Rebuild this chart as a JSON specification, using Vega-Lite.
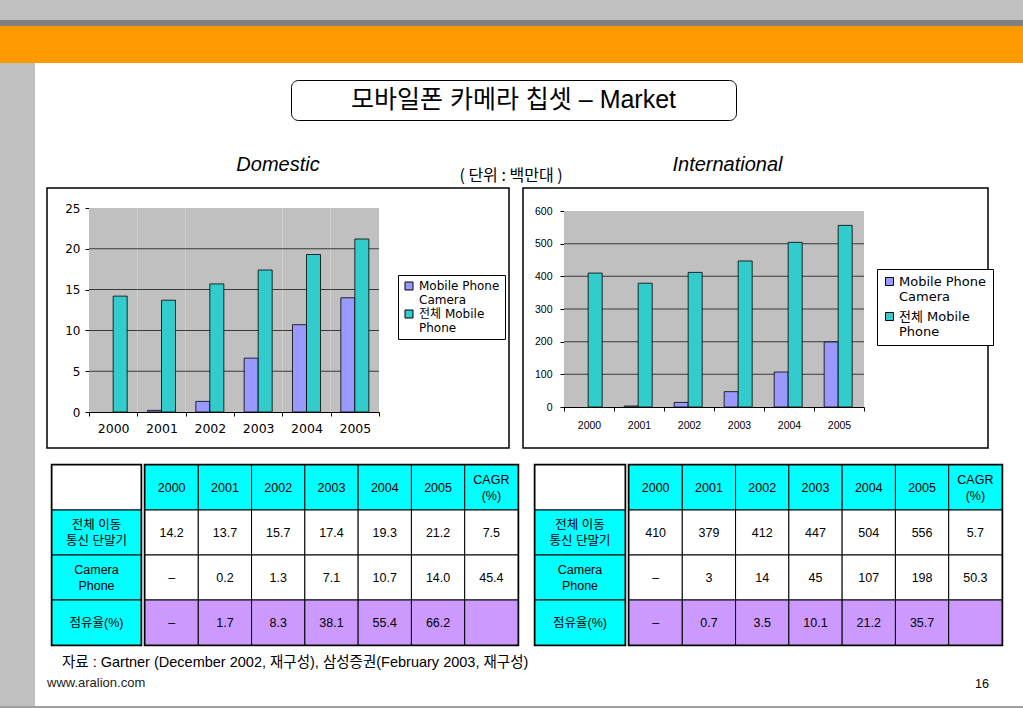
{
  "$schema": "https://vega.github.io/schema/vega-lite/v6.json",
  "background": "white",
  "padding": 0,
  "spacing": 0,
  "config": {
    "view": {"stroke": null},
    "font": "Liberation Sans, Noto Sans CJK KR",
    "title": {"color": "black", "fontWeight": "normal"},
    "axis": {"domainColor": "black", "tickColor": "black", "labelColor": "black", "grid": false},
    "text": {"color": "black"}
  },
  "resolve": {"scale": {"color": "independent"}},
  "datasets": {
    "blank": [],
    "one": [{}],
    "years": [{"year": "2000"}, {"year": "2001"}, {"year": "2002"}, {"year": "2003"}, {"year": "2004"}, {"year": "2005"}],
    "dom": [
      {"year": "2000", "series": "전체 Mobile Phone", "value": 14.2},
      {"year": "2001", "series": "Mobile Phone Camera", "value": 0.2},
      {"year": "2001", "series": "전체 Mobile Phone", "value": 13.7},
      {"year": "2002", "series": "Mobile Phone Camera", "value": 1.3},
      {"year": "2002", "series": "전체 Mobile Phone", "value": 15.7},
      {"year": "2003", "series": "Mobile Phone Camera", "value": 6.6},
      {"year": "2003", "series": "전체 Mobile Phone", "value": 17.4},
      {"year": "2004", "series": "Mobile Phone Camera", "value": 10.7},
      {"year": "2004", "series": "전체 Mobile Phone", "value": 19.3},
      {"year": "2005", "series": "Mobile Phone Camera", "value": 14.0},
      {"year": "2005", "series": "전체 Mobile Phone", "value": 21.2}
    ],
    "intl": [
      {"year": "2000", "series": "전체 Mobile Phone", "value": 410},
      {"year": "2001", "series": "Mobile Phone Camera", "value": 3},
      {"year": "2001", "series": "전체 Mobile Phone", "value": 379},
      {"year": "2002", "series": "Mobile Phone Camera", "value": 14},
      {"year": "2002", "series": "전체 Mobile Phone", "value": 412},
      {"year": "2003", "series": "Mobile Phone Camera", "value": 47},
      {"year": "2003", "series": "전체 Mobile Phone", "value": 447},
      {"year": "2004", "series": "Mobile Phone Camera", "value": 107},
      {"year": "2004", "series": "전체 Mobile Phone", "value": 504},
      {"year": "2005", "series": "Mobile Phone Camera", "value": 199},
      {"year": "2005", "series": "전체 Mobile Phone", "value": 556}
    ],
    "rowlabels": [
      {"r": "0", "label": ""},
      {"r": "1", "label": "전체 이동\n통신 단말기"},
      {"r": "2", "label": "Camera\nPhone"},
      {"r": "3", "label": "점유율(%)"}
    ],
    "tblL": [
      {"r": "0", "c": "2000", "t": "2000"}, {"r": "0", "c": "2001", "t": "2001"}, {"r": "0", "c": "2002", "t": "2002"}, {"r": "0", "c": "2003", "t": "2003"}, {"r": "0", "c": "2004", "t": "2004"}, {"r": "0", "c": "2005", "t": "2005"}, {"r": "0", "c": "CAGR", "t": "CAGR\n(%)"},
      {"r": "1", "c": "2000", "t": "14.2"}, {"r": "1", "c": "2001", "t": "13.7"}, {"r": "1", "c": "2002", "t": "15.7"}, {"r": "1", "c": "2003", "t": "17.4"}, {"r": "1", "c": "2004", "t": "19.3"}, {"r": "1", "c": "2005", "t": "21.2"}, {"r": "1", "c": "CAGR", "t": "7.5"},
      {"r": "2", "c": "2000", "t": "–"}, {"r": "2", "c": "2001", "t": "0.2"}, {"r": "2", "c": "2002", "t": "1.3"}, {"r": "2", "c": "2003", "t": "7.1"}, {"r": "2", "c": "2004", "t": "10.7"}, {"r": "2", "c": "2005", "t": "14.0"}, {"r": "2", "c": "CAGR", "t": "45.4"},
      {"r": "3", "c": "2000", "t": "–"}, {"r": "3", "c": "2001", "t": "1.7"}, {"r": "3", "c": "2002", "t": "8.3"}, {"r": "3", "c": "2003", "t": "38.1"}, {"r": "3", "c": "2004", "t": "55.4"}, {"r": "3", "c": "2005", "t": "66.2"}, {"r": "3", "c": "CAGR", "t": ""}
    ],
    "tblR": [
      {"r": "0", "c": "2000", "t": "2000"}, {"r": "0", "c": "2001", "t": "2001"}, {"r": "0", "c": "2002", "t": "2002"}, {"r": "0", "c": "2003", "t": "2003"}, {"r": "0", "c": "2004", "t": "2004"}, {"r": "0", "c": "2005", "t": "2005"}, {"r": "0", "c": "CAGR", "t": "CAGR\n(%)"},
      {"r": "1", "c": "2000", "t": "410"}, {"r": "1", "c": "2001", "t": "379"}, {"r": "1", "c": "2002", "t": "412"}, {"r": "1", "c": "2003", "t": "447"}, {"r": "1", "c": "2004", "t": "504"}, {"r": "1", "c": "2005", "t": "556"}, {"r": "1", "c": "CAGR", "t": "5.7"},
      {"r": "2", "c": "2000", "t": "–"}, {"r": "2", "c": "2001", "t": "3"}, {"r": "2", "c": "2002", "t": "14"}, {"r": "2", "c": "2003", "t": "45"}, {"r": "2", "c": "2004", "t": "107"}, {"r": "2", "c": "2005", "t": "198"}, {"r": "2", "c": "CAGR", "t": "50.3"},
      {"r": "3", "c": "2000", "t": "–"}, {"r": "3", "c": "2001", "t": "0.7"}, {"r": "3", "c": "2002", "t": "3.5"}, {"r": "3", "c": "2003", "t": "10.1"}, {"r": "3", "c": "2004", "t": "21.2"}, {"r": "3", "c": "2005", "t": "35.7"}, {"r": "3", "c": "CAGR", "t": ""}
    ]
  },
  "vconcat": [
    {"width": 1023, "height": 20, "view": {"fill": "#C0C0C0", "stroke": null}, "data": {"name": "blank"}, "mark": "text", "encoding": {"text": {"value": ""}}},
    {"width": 1023, "height": 6, "view": {"fill": "#808080", "stroke": null}, "data": {"name": "blank"}, "mark": "text", "encoding": {"text": {"value": ""}}},
    {"width": 1023, "height": 37, "view": {"fill": "#FF9900", "stroke": null}, "data": {"name": "blank"}, "mark": "text", "encoding": {"text": {"value": ""}}},
    {
      "spacing": 0,
      "hconcat": [
        {"width": 35, "height": 643, "view": {"fill": "#C0C0C0", "stroke": null}, "data": {"name": "blank"}, "mark": "text", "encoding": {"text": {"value": ""}}},
        {
          "spacing": 0,
          "vconcat": [
            {"width": 1, "height": 16, "data": {"name": "blank"}, "mark": "text", "encoding": {"text": {"value": ""}}},
            {
              "spacing": 0,
              "hconcat": [
                {"width": 255, "height": 40, "data": {"name": "blank"}, "mark": "text", "encoding": {"text": {"value": ""}}},
                {"width": 445, "height": 40, "view": {"stroke": "black", "strokeWidth": 1, "cornerRadius": 7, "fill": "white"}, "data": {"name": "one"}, "mark": {"type": "text", "fontSize": 25, "font": "Liberation Sans, Noto Sans CJK KR"}, "encoding": {"text": {"value": "모바일폰 카메라 칩셋  – Market"}}}
              ]
            },
            {"width": 1, "height": 33, "data": {"name": "blank"}, "mark": "text", "encoding": {"text": {"value": ""}}},
            {
              "spacing": 0,
              "bounds": "flush",
              "resolve": {"scale": {"color": "independent"}},
              "hconcat": [
                {"width": 12, "height": 260, "data": {"name": "blank"}, "mark": "text", "encoding": {"text": {"value": ""}}},
                {
                  "width": 462, "height": 260,
                  "view": {"stroke": "black", "strokeWidth": 1.5, "fill": "white"},
                  "title": {"text": "Domestic", "fontSize": 20, "fontStyle": "italic", "font": "Liberation Sans", "anchor": "middle", "baseline": "alphabetic", "offset": -3},
                  "layer": [
                    {"data": {"name": "years"}, "mark": {"type": "rect", "fill": "#C0C0C0"},
                     "encoding": {"x": {"field": "year", "type": "ordinal", "title": null}, "y": {"datum": 0, "type": "quantitative"}, "y2": {"datum": 25}}},
                    {"data": {"name": "years"}, "mark": {"type": "tick", "color": "black", "thickness": 1, "size": 48.4},
                     "encoding": {"x": {"field": "year", "type": "ordinal", "title": null}, "y": {"datum": 5, "type": "quantitative"}}},
                    {"data": {"name": "years"}, "mark": {"type": "tick", "color": "black", "thickness": 1, "size": 48.4},
                     "encoding": {"x": {"field": "year", "type": "ordinal", "title": null}, "y": {"datum": 10, "type": "quantitative"}}},
                    {"data": {"name": "years"}, "mark": {"type": "tick", "color": "black", "thickness": 1, "size": 48.4},
                     "encoding": {"x": {"field": "year", "type": "ordinal", "title": null}, "y": {"datum": 15, "type": "quantitative"}}},
                    {"data": {"name": "years"}, "mark": {"type": "tick", "color": "black", "thickness": 1, "size": 48.4},
                     "encoding": {"x": {"field": "year", "type": "ordinal", "title": null}, "y": {"datum": 20, "type": "quantitative"}}},
                    {"data": {"name": "dom"}, "mark": {"type": "bar", "stroke": "black", "strokeWidth": 0.8},
                     "encoding": {
                       "x": {"field": "year", "type": "ordinal", "title": null,
                             "scale": {"range": [42, 332], "paddingInner": 0, "paddingOuter": 0},
                             "axis": {"orient": "bottom", "offset": -36, "tickBand": "extent", "tickSize": 4, "labelAngle": 0, "labelAlign": "center", "labelFlush": false, "labelFont": "DejaVu Sans", "labelFontSize": 12.5, "labelPadding": 12, "title": null}},
                       "xOffset": {"field": "series", "type": "nominal", "scale": {"domain": ["Mobile Phone Camera", "전체 Mobile Phone"], "paddingInner": 0, "paddingOuter": 0.725}},
                       "y": {"field": "value", "type": "quantitative", "title": null,
                             "scale": {"domain": [0, 25], "range": [224, 20], "nice": false},
                             "axis": {"orient": "left", "offset": -42, "values": [0, 5, 10, 15, 20, 25], "tickSize": 4, "labelFont": "DejaVu Sans", "labelFontSize": 12, "labelPadding": 5, "title": null}},
                       "color": {"field": "series", "type": "nominal",
                                 "scale": {"domain": ["Mobile Phone Camera", "전체 Mobile Phone"], "range": ["#9999FF", "#33CCCC"]},
                                 "legend": {"orient": "none", "legendX": 351, "legendY": 87, "title": null, "strokeColor": "black", "fillColor": "white", "padding": 5, "symbolType": "square", "symbolSize": 64, "symbolStrokeColor": "black", "symbolStrokeWidth": 1, "labelFont": "DejaVu Sans, Noto Sans CJK KR", "labelFontSize": 12, "labelColor": "black", "rowPadding": 2, "labelLimit": 300,
                                            "labelExpr": "datum.value == 'Mobile Phone Camera' ? ['Mobile Phone', 'Camera'] : ['전체 Mobile', 'Phone']"}}
                     }}
                  ]
                },
                {"width": 14, "height": 260, "title": {"text": "( 단위 : 백만대 )", "fontSize": 16, "font": "Noto Sans CJK KR", "anchor": "middle", "baseline": "alphabetic", "offset": -9, "dx": -5}, "data": {"name": "blank"}, "mark": "text", "encoding": {"text": {"value": ""}}},
                {
                  "width": 465, "height": 260,
                  "view": {"stroke": "black", "strokeWidth": 1.5, "fill": "white"},
                  "title": {"text": "International", "fontSize": 20, "fontStyle": "italic", "font": "Liberation Sans", "anchor": "middle", "baseline": "alphabetic", "offset": -3, "dx": -28},
                  "layer": [
                    {"data": {"name": "years"}, "mark": {"type": "rect", "fill": "#C0C0C0"},
                     "encoding": {"x": {"field": "year", "type": "ordinal", "title": null}, "y": {"datum": 0, "type": "quantitative"}, "y2": {"datum": 600}}},
                    {"data": {"name": "years"}, "mark": {"type": "tick", "color": "black", "thickness": 1, "size": 50.1},
                     "encoding": {"x": {"field": "year", "type": "ordinal", "title": null}, "y": {"datum": 100, "type": "quantitative"}}},
                    {"data": {"name": "years"}, "mark": {"type": "tick", "color": "black", "thickness": 1, "size": 50.1},
                     "encoding": {"x": {"field": "year", "type": "ordinal", "title": null}, "y": {"datum": 200, "type": "quantitative"}}},
                    {"data": {"name": "years"}, "mark": {"type": "tick", "color": "black", "thickness": 1, "size": 50.1},
                     "encoding": {"x": {"field": "year", "type": "ordinal", "title": null}, "y": {"datum": 300, "type": "quantitative"}}},
                    {"data": {"name": "years"}, "mark": {"type": "tick", "color": "black", "thickness": 1, "size": 50.1},
                     "encoding": {"x": {"field": "year", "type": "ordinal", "title": null}, "y": {"datum": 400, "type": "quantitative"}}},
                    {"data": {"name": "years"}, "mark": {"type": "tick", "color": "black", "thickness": 1, "size": 50.1},
                     "encoding": {"x": {"field": "year", "type": "ordinal", "title": null}, "y": {"datum": 500, "type": "quantitative"}}},
                    {"data": {"name": "intl"}, "mark": {"type": "bar", "stroke": "black", "strokeWidth": 0.8},
                     "encoding": {
                       "x": {"field": "year", "type": "ordinal", "title": null,
                             "scale": {"range": [41, 341], "paddingInner": 0, "paddingOuter": 0},
                             "axis": {"orient": "bottom", "offset": -41, "tickBand": "extent", "tickSize": 4, "labelAngle": 0, "labelAlign": "center", "labelFlush": false, "labelFont": "Liberation Sans", "labelFontSize": 10.5, "labelPadding": 14, "title": null}},
                       "xOffset": {"field": "series", "type": "nominal", "scale": {"domain": ["Mobile Phone Camera", "전체 Mobile Phone"], "paddingInner": 0, "paddingOuter": 0.72}},
                       "y": {"field": "value", "type": "quantitative", "title": null,
                             "scale": {"domain": [0, 600], "range": [219, 23], "nice": false},
                             "axis": {"orient": "left", "offset": -41, "values": [0, 100, 200, 300, 400, 500, 600], "tickSize": 4, "labelFont": "Liberation Sans", "labelFontSize": 10.5, "labelPadding": 8, "title": null}},
                       "color": {"field": "series", "type": "nominal",
                                 "scale": {"domain": ["Mobile Phone Camera", "전체 Mobile Phone"], "range": ["#9999FF", "#33CCCC"]},
                                 "legend": {"orient": "none", "legendX": 354, "legendY": 81, "title": null, "strokeColor": "black", "fillColor": "white", "padding": 6, "symbolType": "square", "symbolSize": 64, "symbolStrokeColor": "black", "symbolStrokeWidth": 1, "labelFont": "DejaVu Sans, Noto Sans CJK KR", "labelFontSize": 13, "labelOffset": 3, "labelColor": "black", "rowPadding": 6, "labelLimit": 300,
                                            "labelExpr": "datum.value == 'Mobile Phone Camera' ? ['Mobile Phone', 'Camera'] : ['전체 Mobile', 'Phone']"}}
                     }}
                  ]
                }
              ]
            },
            {"width": 1, "height": 14, "data": {"name": "blank"}, "mark": "text", "encoding": {"text": {"value": ""}}},
            {
              "spacing": 0,
              "hconcat": [
                {"width": 15, "height": 180, "data": {"name": "blank"}, "mark": "text", "encoding": {"text": {"value": ""}}},
                {
                  "spacing": 0,
                  "hconcat": [
                    {"width": 89, "height": 180, "view": {"stroke": "black", "strokeWidth": 2.5},
                     "data": {"name": "rowlabels"},
                     "encoding": {"y": {"field": "r", "type": "ordinal", "axis": null, "scale": {"paddingInner": 0, "paddingOuter": 0}}},
                     "layer": [
                       {"mark": {"type": "rect", "stroke": "black", "strokeWidth": 1},
                        "encoding": {"fill": {"condition": {"test": "datum.r == '0'", "value": "white"}, "value": "#00FFFF"}}},
                       {"transform": [{"filter": "indexof(datum.label, '\\n') < 0"}],
                        "mark": {"type": "text", "fontSize": 12.5, "font": "Liberation Sans, Noto Sans CJK KR"},
                        "encoding": {"text": {"field": "label"}}},
                       {"transform": [{"filter": "indexof(datum.label, '\\n') >= 0"}],
                        "mark": {"type": "text", "lineBreak": "\n", "fontSize": 12.5, "font": "Liberation Sans, Noto Sans CJK KR", "lineHeight": 16, "dy": -8},
                        "encoding": {"text": {"field": "label"}}}
                     ]},
                    {"width": 373, "height": 180, "view": {"stroke": "black", "strokeWidth": 2.5},
                     "data": {"name": "tblL"},
                     "encoding": {"x": {"field": "c", "type": "ordinal", "axis": null, "scale": {"paddingInner": 0, "paddingOuter": 0}},
                                  "y": {"field": "r", "type": "ordinal", "axis": null, "scale": {"paddingInner": 0, "paddingOuter": 0}}},
                     "layer": [
                       {"mark": {"type": "rect", "stroke": "black", "strokeWidth": 1},
                        "encoding": {"fill": {"condition": [{"test": "datum.r == '0'", "value": "#00FFFF"}, {"test": "datum.r == '3'", "value": "#CC99FF"}], "value": "white"}}},
                       {"transform": [{"filter": "indexof(datum.t, '\\n') < 0"}],
                        "mark": {"type": "text", "fontSize": 12.5, "font": "Liberation Sans, Noto Sans CJK KR"},
                        "encoding": {"text": {"field": "t"}}},
                       {"transform": [{"filter": "indexof(datum.t, '\\n') >= 0"}],
                        "mark": {"type": "text", "lineBreak": "\n", "fontSize": 12.5, "font": "Liberation Sans, Noto Sans CJK KR", "lineHeight": 16, "dy": -8},
                        "encoding": {"text": {"field": "t"}}}
                     ]}
                  ]
                },
                {"width": 13, "height": 180, "data": {"name": "blank"}, "mark": "text", "encoding": {"text": {"value": ""}}},
                {
                  "spacing": 0,
                  "hconcat": [
                    {"width": 90, "height": 180, "view": {"stroke": "black", "strokeWidth": 2.5},
                     "data": {"name": "rowlabels"},
                     "encoding": {"y": {"field": "r", "type": "ordinal", "axis": null, "scale": {"paddingInner": 0, "paddingOuter": 0}}},
                     "layer": [
                       {"mark": {"type": "rect", "stroke": "black", "strokeWidth": 1},
                        "encoding": {"fill": {"condition": {"test": "datum.r == '0'", "value": "white"}, "value": "#00FFFF"}}},
                       {"transform": [{"filter": "indexof(datum.label, '\\n') < 0"}],
                        "mark": {"type": "text", "fontSize": 12.5, "font": "Liberation Sans, Noto Sans CJK KR"},
                        "encoding": {"text": {"field": "label"}}},
                       {"transform": [{"filter": "indexof(datum.label, '\\n') >= 0"}],
                        "mark": {"type": "text", "lineBreak": "\n", "fontSize": 12.5, "font": "Liberation Sans, Noto Sans CJK KR", "lineHeight": 16, "dy": -8},
                        "encoding": {"text": {"field": "label"}}}
                     ]},
                    {"width": 373, "height": 180, "view": {"stroke": "black", "strokeWidth": 2.5},
                     "data": {"name": "tblR"},
                     "encoding": {"x": {"field": "c", "type": "ordinal", "axis": null, "scale": {"paddingInner": 0, "paddingOuter": 0}},
                                  "y": {"field": "r", "type": "ordinal", "axis": null, "scale": {"paddingInner": 0, "paddingOuter": 0}}},
                     "layer": [
                       {"mark": {"type": "rect", "stroke": "black", "strokeWidth": 1},
                        "encoding": {"fill": {"condition": [{"test": "datum.r == '0'", "value": "#00FFFF"}, {"test": "datum.r == '3'", "value": "#CC99FF"}], "value": "white"}}},
                       {"transform": [{"filter": "indexof(datum.t, '\\n') < 0"}],
                        "mark": {"type": "text", "fontSize": 12.5, "font": "Liberation Sans, Noto Sans CJK KR"},
                        "encoding": {"text": {"field": "t"}}},
                       {"transform": [{"filter": "indexof(datum.t, '\\n') >= 0"}],
                        "mark": {"type": "text", "lineBreak": "\n", "fontSize": 12.5, "font": "Liberation Sans, Noto Sans CJK KR", "lineHeight": 16, "dy": -8},
                        "encoding": {"text": {"field": "t"}}}
                     ]}
                  ]
                }
              ]
            },
            {"width": 988, "height": 1,
             "title": {"text": "자료 : Gartner (December 2002, 재구성), 삼성증권(February 2003, 재구성)", "orient": "bottom", "anchor": "start", "dx": 27, "baseline": "alphabetic", "offset": 19, "fontSize": 14.5, "font": "Liberation Sans, Noto Sans CJK KR"},
             "data": {"name": "blank"}, "mark": "text", "encoding": {"text": {"value": ""}}},
            {
              "spacing": 0,
              "hconcat": [
                {"width": 940, "height": 1,
                 "title": {"text": "www.aralion.com", "orient": "bottom", "anchor": "start", "dx": 12, "baseline": "alphabetic", "offset": 16, "fontSize": 13, "font": "Liberation Sans", "color": "#222222"},
                 "data": {"name": "blank"}, "mark": "text", "encoding": {"text": {"value": ""}}},
                {"width": 48, "height": 1,
                 "title": {"text": "16", "orient": "bottom", "anchor": "start", "baseline": "alphabetic", "offset": 17, "fontSize": 12.5, "font": "Liberation Sans"},
                 "data": {"name": "blank"}, "mark": "text", "encoding": {"text": {"value": ""}}}
              ]
            }
          ]
        }
      ]
    },
    {"width": 1023, "height": 2, "view": {"fill": "#A0A0A0", "stroke": null}, "data": {"name": "blank"}, "mark": "text", "encoding": {"text": {"value": ""}}}
  ]
}
